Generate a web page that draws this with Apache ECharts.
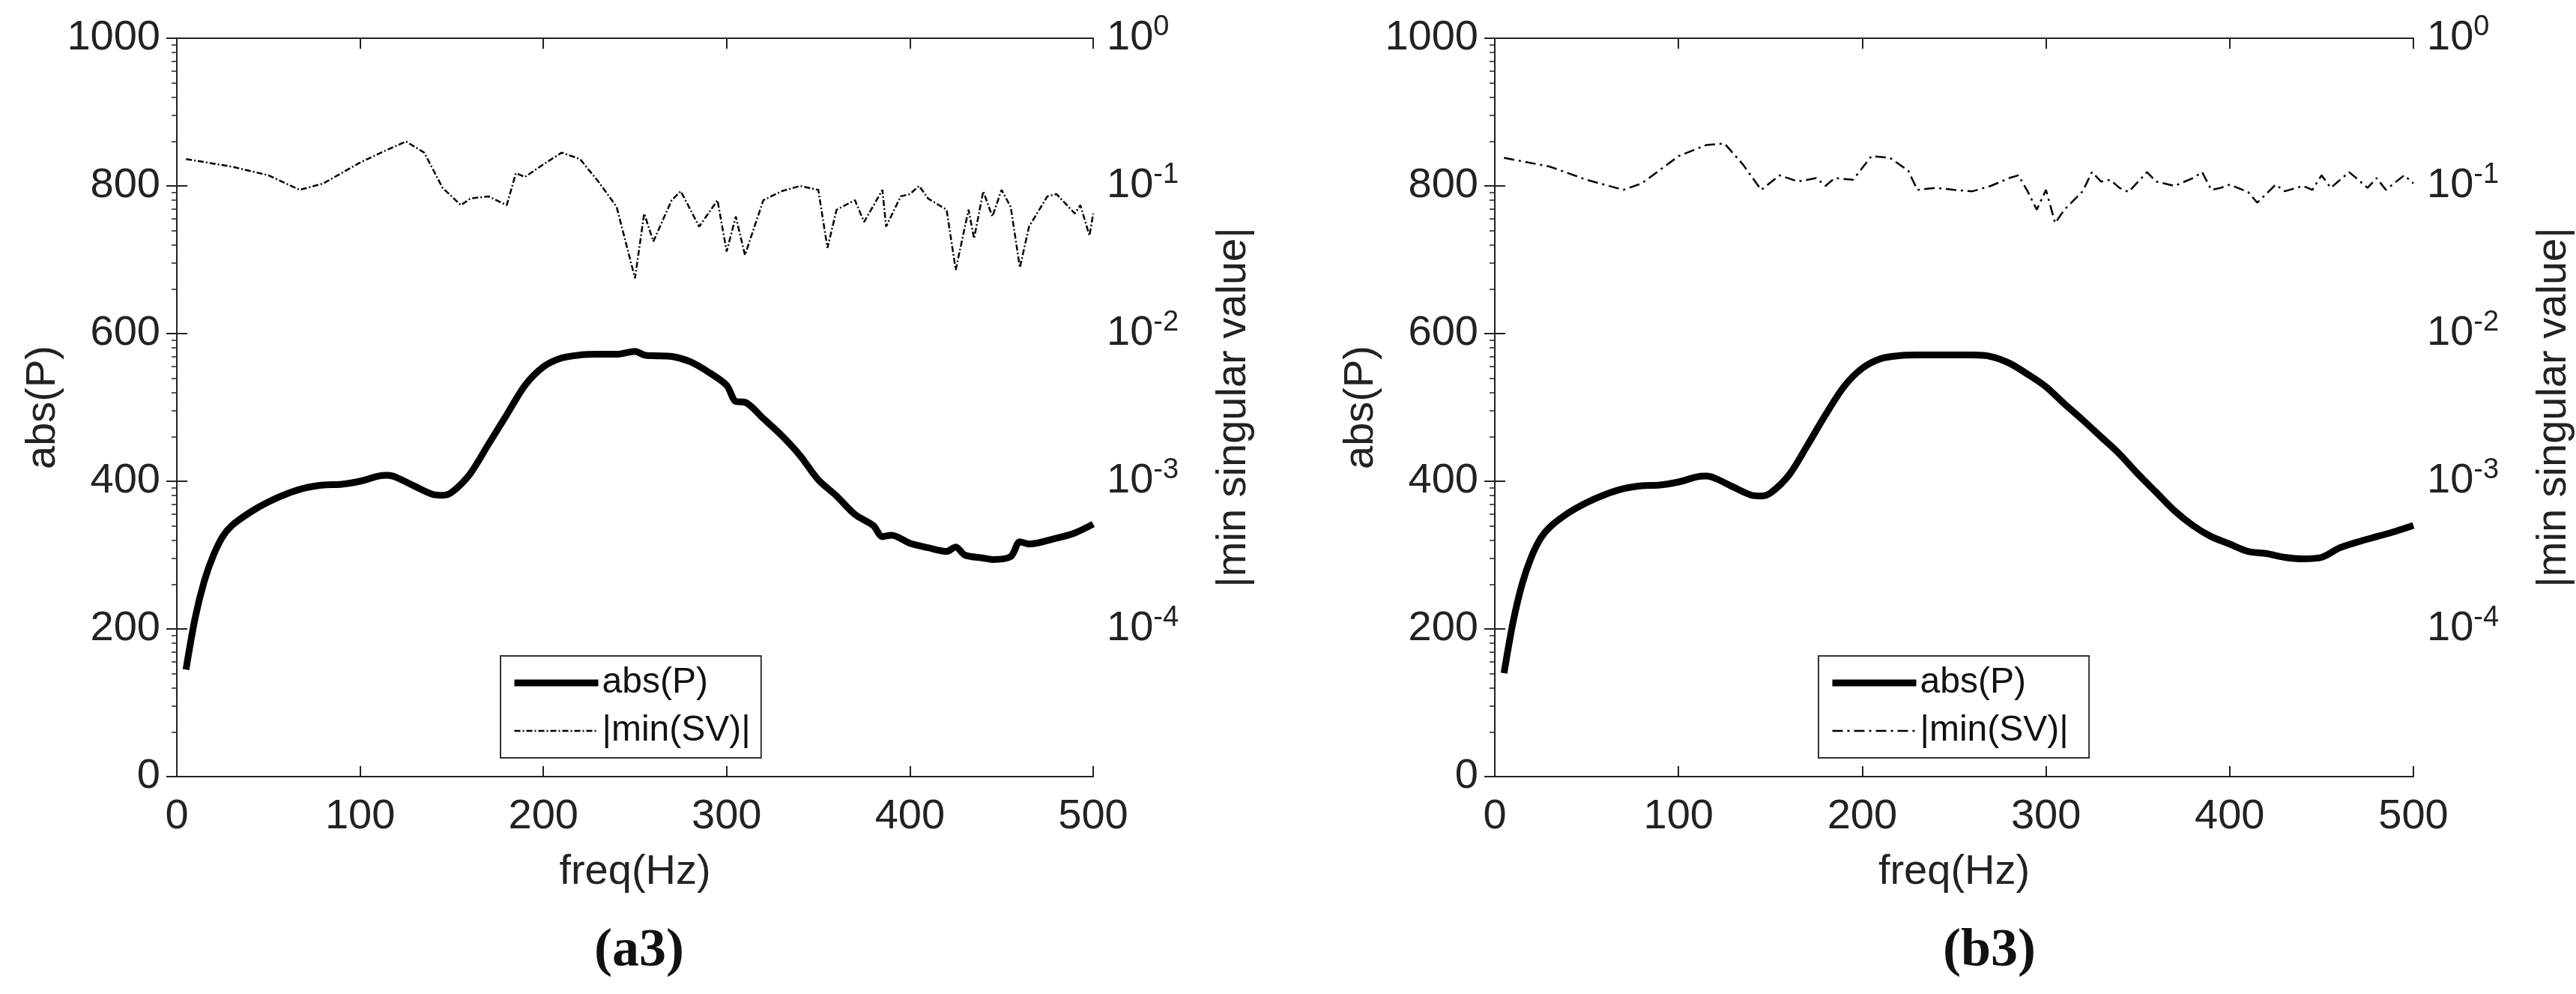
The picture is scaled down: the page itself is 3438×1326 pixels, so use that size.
<!DOCTYPE html>
<html>
<head>
<meta charset="utf-8">
<script src="https://cdn.jsdelivr.net/npm/echarts@6/dist/echarts.min.js"></script>
<style>html,body{margin:0;padding:0;background:#fff}#chart-container{width:3438px;height:1326px}</style>
</head>
<body>
<div id="chart-container"></div>
<script>
var dom = document.getElementById('chart-container');
var myChart = echarts.init(dom, null, { renderer: 'canvas' });

// panel (a3)
const freqPA = [5,10,15,20,25,30,40,50,60,70,80,90,100,110,115,120,130,140,145,150,160,170,180,190,200,210,220,230,240,250,255,260,270,280,290,300,305,310,320,330,340,350,360,370,380,385,390,400,410,420,425,430,440,445,455,460,465,480,490,500];
const absPA = [145,215,265,300,325,340,358,372,383,391,395,396,400,407,408,405,393,382,381,385,410,450,490,530,555,567,571,572,572,576,571,570,569,562,548,530,508,507,485,462,435,402,380,355,340,325,327,316,310,305,311,300,296,294,298,318,315,323,330,342];
const freqSvA = [5,30,50,67,80,100,115,125,135,145,155,160,170,180,185,190,200,210,220,230,240,250,255,260,270,275,285,295,300,305,310,320,330,340,350,355,360,370,375,385,387,395,400,405,410,420,425,432,435,440,445,450,455,460,465,475,480,490,493,498,500];
const minSvA = [0.152,0.135,0.118,0.094,0.104,0.144,0.176,0.200,0.168,0.097,0.074,0.082,0.085,0.074,0.122,0.115,0.140,0.168,0.152,0.107,0.072,0.0237,0.065,0.042,0.080,0.092,0.053,0.080,0.036,0.062,0.034,0.080,0.092,0.1,0.094,0.038,0.069,0.080,0.057,0.094,0.053,0.085,0.088,0.1,0.082,0.069,0.027,0.069,0.044,0.092,0.062,0.094,0.072,0.028,0.053,0.085,0.088,0.065,0.074,0.046,0.065];

// panel (b3)
const freqPB = [5,10,15,20,25,30,40,50,60,70,80,90,100,110,115,120,130,140,145,150,160,170,180,190,200,210,220,230,240,250,260,270,280,290,300,310,320,330,340,350,360,370,380,390,400,410,420,430,440,450,460,470,480,490,500];
const absPB = [140,210,262,298,323,338,357,371,382,390,394,395,399,406,407,404,392,381,380,384,408,448,490,528,553,566,570,571,571,571,571,569,560,545,528,505,483,460,437,410,385,360,340,325,315,305,302,297,295,297,310,318,325,332,340];
const freqSvB = [5,30,50,70,80,100,115,125,135,145,155,165,175,180,185,195,205,215,225,230,240,250,260,270,280,285,290,295,300,305,310,320,325,330,335,340,345,355,360,370,380,385,390,395,400,410,415,425,430,440,445,450,455,465,470,475,480,485,495,500];
const minSvB = [0.155,0.135,0.110,0.094,0.104,0.159,0.189,0.194,0.140,0.094,0.118,0.107,0.113,0.1,0.113,0.110,0.159,0.155,0.127,0.094,0.097,0.094,0.092,0.1,0.113,0.118,0.092,0.069,0.094,0.056,0.069,0.092,0.124,0.107,0.110,0.097,0.091,0.124,0.107,0.1,0.113,0.124,0.094,0.097,0.102,0.091,0.077,0.102,0.092,0.1,0.094,0.118,0.097,0.124,0.110,0.097,0.113,0.094,0.118,0.104];

const panelTitles = ['(a3)', '(b3)'];
const legendNames = ['abs(P)', '|min(SV)|'];

function zip(xs, ys) { return xs.map((x, i) => [x, ys[i]]); }

const font = 'Liberation Sans, Arial, sans-serif';
const grids = [
  { left: 236, top: 51, width: 1223, height: 985 },
  { left: 1995, top: 51, width: 1311, height: 985 }
];
const axisLine = { show: true, lineStyle: { color: '#222', width: 2 } };
const tickIn = { show: true, inside: true, length: 14, lineStyle: { color: '#222', width: 2 } };
const labelStyle = { color: '#222', fontSize: 56, fontFamily: font, formatter: v => String(v) };
const svDash = [[8, 3, 2, 3], [14, 6, 3, 6]];

var xAxis = [], yAxis = [], series = [], legend = [], title = [];
[0, 1].forEach(function (g) {
  xAxis.push({
    type: 'value', gridIndex: g, min: 0, max: 500, interval: 100,
    name: 'freq(Hz)', nameLocation: 'middle', nameGap: 100,
    nameTextStyle: { color: '#222', fontSize: 56, fontFamily: font },
    axisLine: axisLine, axisTick: tickIn,
    axisLabel: Object.assign({ margin: 26 }, labelStyle),
    splitLine: { show: false }
  });
  xAxis.push({
    type: 'value', gridIndex: g, position: 'top', min: 0, max: 500, interval: 100,
    axisLine: axisLine, axisTick: tickIn, axisLabel: { show: false }, splitLine: { show: false }
  });
  yAxis.push({
    type: 'value', gridIndex: g, min: 0, max: 1000, interval: 200,
    name: 'abs(P)', nameLocation: 'middle', nameGap: 150,
    nameTextStyle: { color: '#222', fontSize: 56, fontFamily: font },
    axisLine: axisLine, axisTick: tickIn,
    axisLabel: Object.assign({ margin: 22 }, labelStyle),
    splitLine: { show: false }
  });
  yAxis.push({
    type: 'log', logBase: 10, gridIndex: g, position: 'right', min: 1e-5, max: 1,
    name: '|min singular value|', nameLocation: 'middle', nameGap: 160, nameRotate: 90,
    nameTextStyle: { color: '#222', fontSize: 56, fontFamily: font, verticalAlign: 'top' },
    axisLine: axisLine, axisTick: tickIn,
    minorTick: { show: true, splitNumber: 9, length: 7, lineStyle: { color: '#222', width: 1.5 } },
    axisLabel: {
      margin: 18, color: '#222', fontSize: 56, fontFamily: font,
      formatter: function (v) {
        var e = Math.round(Math.log10(v));
        return e < -4 ? '' : '10{s|' + e + '}';
      },
      rich: { s: { fontSize: 38, fontFamily: font, color: '#222', verticalAlign: 'top', padding: [0, 0, 28, 0] } }
    },
    splitLine: { show: false }
  });
  var suf = g ? ' ' : '';
  legend.push({
    data: [
      { name: legendNames[0] + suf, itemStyle: { opacity: 0 }, lineStyle: { width: 9, color: '#000' } },
      { name: legendNames[1] + suf, itemStyle: { opacity: 0 }, lineStyle: { width: 2.5, color: '#000', type: svDash[g] } }
    ],
    orient: 'vertical',
    left: g ? 2427 : 668, top: 875,
    itemWidth: 112, itemHeight: 20, itemGap: 16,
    padding: [12, 14, 12, 14],
    borderColor: '#333', borderWidth: 2,
    textStyle: { color: '#111', fontSize: 48, fontFamily: font }
  });
  title.push({
    text: panelTitles[g], left: g ? 2650 : 848, top: 1228, textAlign: 'center',
    textStyle: { fontFamily: 'Liberation Serif, Times New Roman, serif', fontSize: 72, fontWeight: 'bold', color: '#111' }
  });
});

const pSets = [zip(freqPA, absPA), zip(freqPB, absPB)];
const svSets = [zip(freqSvA, minSvA), zip(freqSvB, minSvB)];
[0, 1].forEach(function (g) {
  var suf = g ? ' ' : '';
  series.push({
    name: legendNames[0] + suf, type: 'line', xAxisIndex: g * 2, yAxisIndex: g * 2,
    data: pSets[g], smooth: 0.3, symbol: 'none',
    lineStyle: { color: '#000', width: 9 }, itemStyle: { color: '#000' }
  });
  series.push({
    name: legendNames[1] + suf, type: 'line', xAxisIndex: g * 2, yAxisIndex: g * 2 + 1,
    data: svSets[g], symbol: 'none',
    lineStyle: { color: '#000', width: 2.5, type: svDash[g] }, itemStyle: { color: '#000' }
  });
});

var option = {
  backgroundColor: '#fff',
  animation: false,
  title: title,
  grid: grids,
  legend: legend,
  xAxis: xAxis,
  yAxis: yAxis,
  series: series
};

myChart.setOption(option);
window.addEventListener('resize', myChart.resize);
</script>
</body>
</html>
